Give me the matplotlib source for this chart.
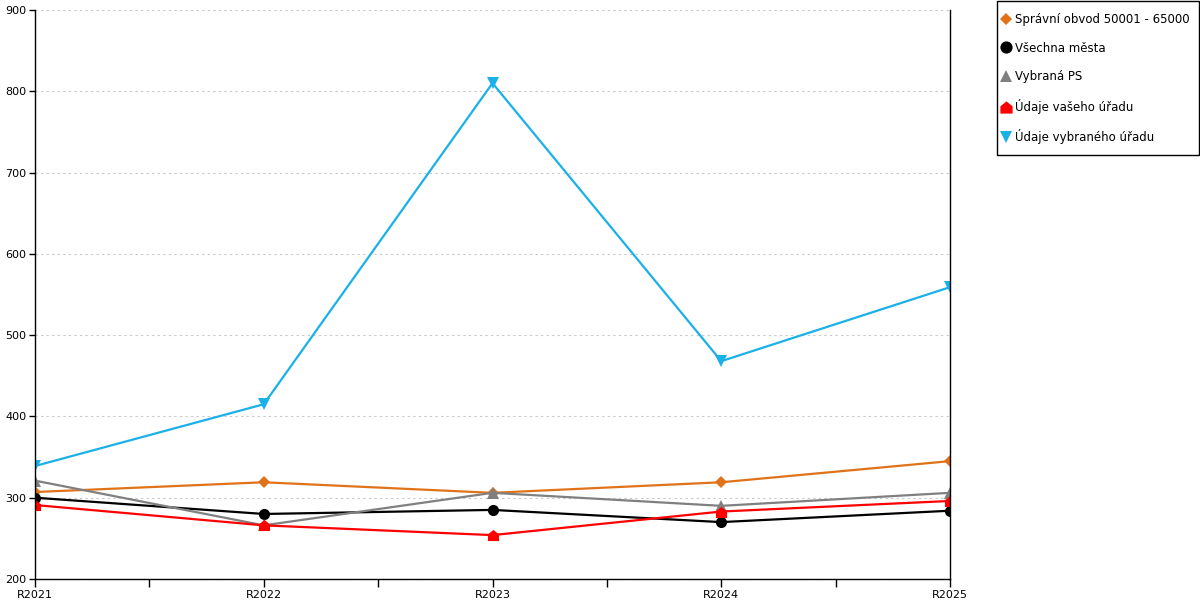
import matplotlib
matplotlib.use('Agg')
import matplotlib.pyplot as plt
from matplotlib.patches import Rectangle
from matplotlib.ticker import MultipleLocator

years = ['R2021', 'R2022', 'R2023', 'R2024', 'R2025']
spravni_obvod = [307, 319, 306, 319, 345]
vsechna_mesta = [300, 280, 285, 270, 284]
vybrana_ps = [321, 266, 306, 290, 306]
vas_urad = [291, 266, 254, 283, 296]
vybrany_urad = [339, 415, 810, 468, 559]

# marker like a little house (square with roof)
house = [(-1, -1), (1, -1), (1, 0.2), (0, 1), (-1, 0.2), (-1, -1)]

series = [
    ('Správní obvod 50001 - 65000', spravni_obvod, '#e0731a', 'D', 6),
    ('Všechna města', vsechna_mesta, '#000000', 'o', 8),
    ('Vybraná PS', vybrana_ps, '#808080', '^', 8),
    ('Údaje vašeho úřadu', vas_urad, '#ff0000', house, 8),
    ('Údaje vybraného úřadu', vybrany_urad, '#1ab0e8', 'v', 8),
]

plt.rcParams['font.family'] = ['DejaVu Sans']
fig = plt.figure(figsize=(12, 6), dpi=100)
ax = fig.add_axes([35 / 1200, 21 / 600, 915 / 1200, 569 / 600])

x = list(range(len(years)))
for label, vals, color, marker, ms in series:
    ax.plot(x, vals, color=color, lw=1.6, marker=marker, ms=ms,
            markeredgewidth=0, label=label)

ax.set_xlim(0, len(years) - 1)
ax.set_ylim(200, 900)
ax.yaxis.set_major_locator(MultipleLocator(100))
ax.set_xticks(x)
ax.set_xticklabels(years)
ax.set_xticks([i + 0.5 for i in x[:-1]], minor=True)
ax.tick_params(axis='x', which='major', length=6, width=1, labelsize=8, pad=2)
ax.tick_params(axis='x', which='minor', length=6, width=1)
ax.tick_params(axis='y', length=4, width=1, labelsize=8, pad=2)
ax.grid(axis='y', color='#c8c8c8', ls=(0, (2, 3)), lw=0.8)
ax.set_axisbelow(True)
ax.spines['top'].set_visible(False)
for s in ['left', 'right', 'bottom']:
    ax.spines[s].set_linewidth(1)

# legend without its own frame, box drawn separately (tighter side padding)
leg = fig.legend(loc='upper left', bbox_to_anchor=(1001 / 1200, 1 - 13 / 600),
                 frameon=False, fontsize=8.5, labelspacing=1.32,
                 handlelength=0.8, handletextpad=0.4, borderpad=0,
                 borderaxespad=0, markerscale=1.1)
for h in leg.legend_handles:
    h.set_linestyle('')
fig.patches.append(Rectangle((997 / 1200, 1 - 155 / 600), 202 / 1200, 154 / 600,
                             transform=fig.transFigure, fill=False,
                             edgecolor='black', lw=1))

fig.savefig('out.png', dpi=100)
